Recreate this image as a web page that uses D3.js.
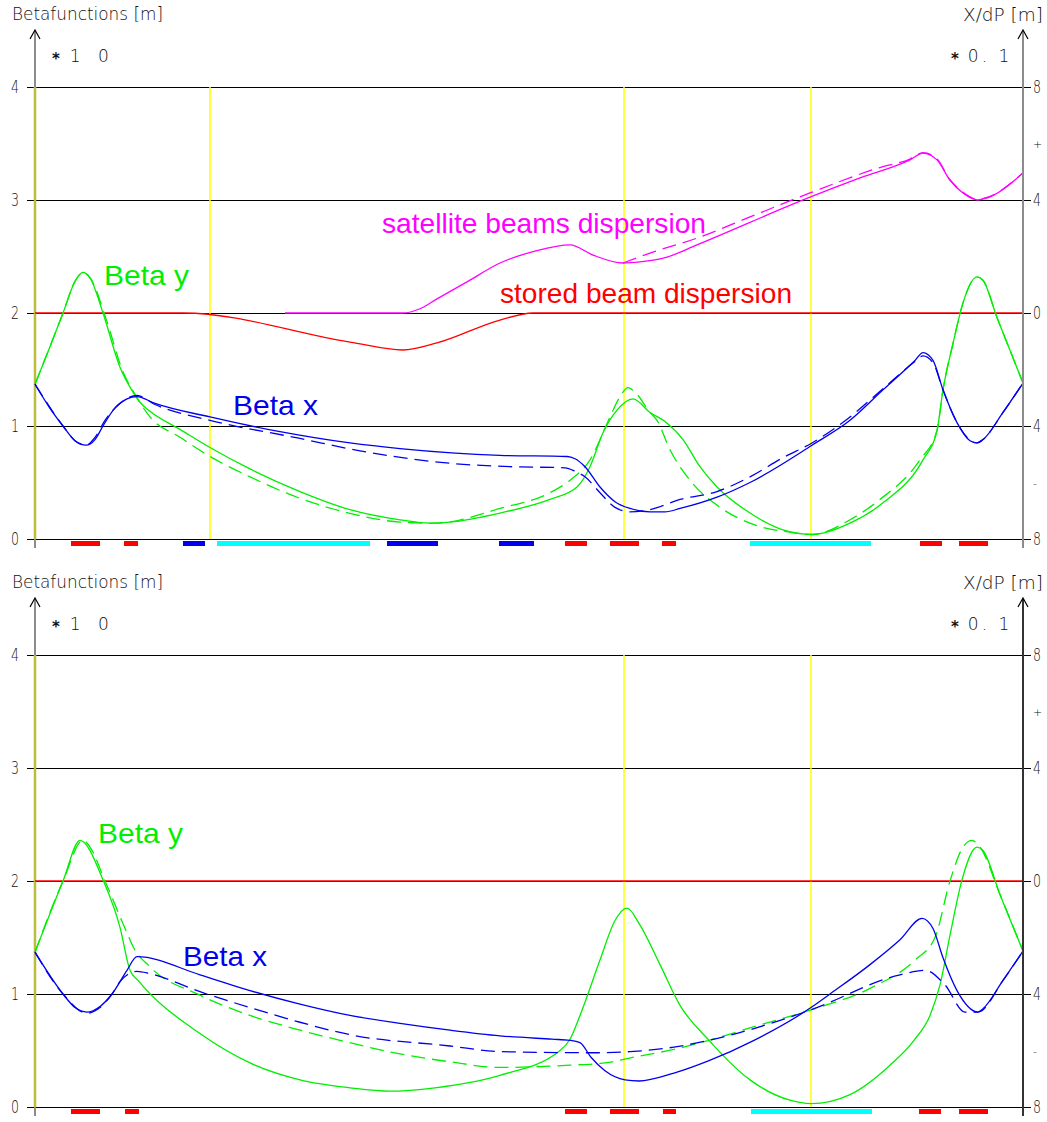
<!DOCTYPE html>
<html><head><meta charset="utf-8">
<script src="https://cdn.jsdelivr.net/npm/d3@7"></script>
<style>
body{margin:0;background:#fff}
svg{display:block}
.plot-font{font-family:"DejaVu Sans",sans-serif;font-weight:300}
.curve-label{font-family:"Liberation Sans",Arial,sans-serif}
</style>
</head><body>
<svg id="chart" width="1047" height="1122"></svg>
<script>
// Longitudinal position s [m] along the section
const sRange = [0, 19.76];

// Left axis: beta functions (x10 m); right axis: dispersion (x0.1 m)
const betaTicks = [0, 1, 2, 3, 4];
const dispTicks = [8, 6, 4, 0, -4, -6, -8];
const dispTickLabels = ["8", "+", "4", "0", "4", "-", "8"];

// Vertical markers (s)
const markersTop = [3.5, 11.78, 15.52];
const markersBottom = [11.78, 15.52];

// Lattice elements below the axis: [s start, s end, kind]
const elementsTop = [
  [0.72, 1.30, "Q"], [1.78, 2.06, "Q"], [2.96, 3.40, "B"], [3.64, 6.70, "C"],
  [7.04, 8.06, "B"], [9.28, 9.98, "B"], [10.60, 11.04, "Q"], [11.50, 12.08, "Q"],
  [12.54, 12.82, "Q"], [14.30, 16.72, "C"], [17.70, 18.14, "Q"], [18.48, 19.06, "Q"]
];
const elementsBottom = [
  [0.72, 1.30, "Q"], [1.80, 2.08, "Q"], [10.60, 11.04, "Q"], [11.50, 12.08, "Q"],
  [12.56, 12.82, "Q"], [14.32, 16.74, "C"], [17.68, 18.12, "Q"], [18.48, 19.06, "Q"]
];
const elementColors = { Q: "#ff0000", B: "#0000ee", C: "#00ffff" };

// ---- upper panel: optics with satellite beams ----
const topBetaY = [
  [0,1.37],[0.28,1.68],[0.56,2.0],[0.80,2.28],[0.96,2.36],[1.10,2.31],[1.36,2.0],[1.70,1.52],
  [1.96,1.30],[2.10,1.21],[2.30,1.13],[2.90,0.97],[3.50,0.81],[4.30,0.62],[5.30,0.42],[6.30,0.26],
  [7.30,0.17],[7.90,0.14],[8.30,0.15],[9.30,0.23],[10.30,0.35],[10.84,0.46],[11.10,0.64],[11.36,0.94],
  [11.64,1.14],[11.96,1.24],[12.30,1.12],[12.60,1.04],[12.96,0.88],[13.30,0.64],[13.64,0.46],[14.30,0.23],
  [14.96,0.08],[15.54,0.04],[16.30,0.14],[16.96,0.32],[17.76,0.70],[18.04,0.96],[18.16,1.32],[18.36,1.73],
  [18.56,2.09],[18.84,2.32],[18.96,2.29],[19.24,1.96],[19.50,1.67],[19.76,1.38]
];
const topBetaYMeas = [
  [0,1.37],[0.56,2.0],[0.80,2.28],[0.96,2.36],[1.12,2.30],[1.42,1.95],[1.76,1.48],[2.00,1.28],
  [2.30,1.08],[2.90,0.90],[3.50,0.73],[4.30,0.55],[5.30,0.36],[6.10,0.25],[7.30,0.15],[8.00,0.14],
  [9.30,0.27],[10.30,0.41],[10.70,0.52],[11.10,0.70],[11.50,1.08],[11.70,1.26],[11.86,1.34],[12.00,1.30],
  [12.30,1.12],[12.44,1.05],[12.70,0.79],[13.10,0.52],[13.70,0.28],[14.30,0.14],[15.10,0.06],[15.54,0.04],
  [16.30,0.17],[16.90,0.35],[17.70,0.70],[18.04,0.96],[18.16,1.32],[18.36,1.73],[18.56,2.09],[18.84,2.32],
  [18.96,2.29],[19.24,1.96],[19.50,1.67],[19.76,1.38]
];
const topBetaX = [
  [0,1.37],[0.28,1.17],[0.56,1.0],[0.80,0.87],[1.02,0.83],[1.20,0.88],[1.36,1.0],[1.60,1.16],
  [1.84,1.24],[2.04,1.26],[2.40,1.20],[3.50,1.08],[4.90,0.95],[6.30,0.85],[7.30,0.80],[9.30,0.74],
  [10.64,0.73],[10.80,0.71],[11.00,0.64],[11.30,0.46],[11.60,0.33],[11.90,0.27],[12.30,0.24],[12.60,0.24],
  [12.90,0.27],[13.64,0.37],[14.30,0.50],[15.54,0.83],[16.30,1.05],[16.96,1.32],[17.60,1.58],[17.76,1.65],
  [17.96,1.58],[18.16,1.32],[18.44,1.03],[18.70,0.87],[18.84,0.85],[18.96,0.88],[19.36,1.12],[19.76,1.38]
];
const topBetaXMeas = [
  [0,1.37],[0.56,1.0],[0.80,0.87],[1.02,0.83],[1.20,0.90],[1.40,1.05],[1.70,1.20],[2.04,1.27],
  [2.40,1.19],[3.50,1.05],[5.30,0.89],[6.50,0.78],[8.30,0.67],[9.50,0.64],[10.60,0.63],[10.80,0.60],
  [11.00,0.55],[11.30,0.41],[11.60,0.28],[11.90,0.24],[12.30,0.26],[12.90,0.35],[13.64,0.42],[14.30,0.55],
  [14.96,0.72],[15.54,0.85],[16.30,1.08],[16.96,1.33],[17.60,1.57],[17.76,1.62],[17.96,1.56],[18.16,1.32],
  [18.44,1.03],[18.84,0.85],[18.96,0.88],[19.36,1.12],[19.76,1.38]
];
const topDispSat = [
  [5.0,0],[7.36,0],[7.70,0.15],[8.04,0.5],[8.64,1.10],[9.30,1.77],[10.0,2.19],[10.70,2.41],
  [11.16,2.05],[11.76,1.77],[12.10,1.81],[12.64,1.98],[13.24,2.41],[15.50,4.10],[16.50,4.78],[17.50,5.42],
  [17.76,5.66],[18.04,5.42],[18.30,4.70],[18.56,4.25],[18.86,4.00],[19.04,4.07],[19.76,4.96]
];
const topDispSatMeas = [
  [11.76,1.77],[12.30,2.12],[13.24,2.65],[14.30,3.40],[15.50,4.25],[16.90,5.15],[17.50,5.45],[17.76,5.68],
  [18.04,5.45],[18.30,4.72],[18.56,4.27],[18.86,4.02],[19.04,4.09],[19.76,4.96]
];
const topDispStored = [
  [0,0],[2.96,0],[6.30,-1.03],[7.36,-1.31],[8.04,-1.06],[9.30,-0.25],[9.96,0],[19.76,0]
];

// ---- lower panel: optics without satellite beams ----
const botBetaY = [
  [0,1.37],[0.56,2.0],[0.90,2.36],[1.36,2.01],[1.70,1.59],[1.90,1.21],[2.06,1.12],[3.30,0.65],
  [4.30,0.39],[5.30,0.24],[6.30,0.17],[7.10,0.14],[8.00,0.17],[9.30,0.28],[10.50,0.50],[10.70,0.60],
  [10.90,0.81],[11.30,1.30],[11.60,1.65],[11.84,1.76],[12.10,1.61],[12.50,1.26],[12.90,0.90],[13.48,0.59],
  [14.30,0.24],[15.10,0.06],[15.52,0.03],[16.30,0.11],[17.10,0.37],[17.58,0.59],[17.90,0.81],[18.10,1.08],
  [18.30,1.52],[18.54,2.01],[18.84,2.30],[18.96,2.27],[19.30,1.88],[19.76,1.38]
];
const botBetaYMeas = [
  [0,1.37],[0.56,2.0],[0.96,2.36],[1.10,2.30],[1.40,2.00],[1.84,1.54],[1.96,1.42],[2.30,1.24],
  [3.30,0.99],[4.30,0.81],[5.30,0.68],[6.10,0.59],[7.30,0.47],[8.30,0.40],[9.30,0.35],[10.70,0.37],
  [11.40,0.39],[12.08,0.45],[12.78,0.51],[13.48,0.59],[14.30,0.70],[15.52,0.86],[16.70,1.05],[17.60,1.30],
  [18.00,1.50],[18.30,2.00],[18.56,2.30],[18.74,2.36],[18.90,2.30],[19.30,1.88],[19.76,1.38]
];
const botBetaX = [
  [0,1.37],[0.56,1.0],[0.80,0.88],[1.04,0.84],[1.30,0.89],[1.54,1.0],[1.84,1.21],[2.04,1.33],
  [3.30,1.17],[4.30,1.03],[5.30,0.91],[6.30,0.81],[7.30,0.74],[8.30,0.68],[9.30,0.63],[10.34,0.60],
  [10.70,0.59],[10.90,0.57],[11.12,0.44],[11.40,0.32],[11.80,0.24],[12.08,0.23],[12.78,0.30],[13.48,0.41],
  [14.38,0.59],[15.52,0.88],[15.90,1.0],[16.70,1.26],[17.30,1.48],[17.74,1.67],[17.96,1.58],[18.16,1.32],
  [18.44,1.03],[18.86,0.84],[18.96,0.87],[19.36,1.12],[19.76,1.38]
];
const botBetaXMeas = [
  [0,1.37],[0.56,1.0],[1.04,0.83],[1.30,0.88],[1.54,1.0],[1.70,1.11],[2.04,1.20],[2.30,1.18],
  [3.30,1.02],[4.30,0.88],[5.30,0.75],[6.30,0.64],[8.30,0.54],[9.30,0.49],[11.30,0.48],[11.90,0.49],
  [12.78,0.53],[13.48,0.59],[15.52,0.86],[17.30,1.17],[17.80,1.21],[18.20,1.08],[18.60,0.84],[18.86,0.84],
  [19.36,1.12],[19.76,1.38]
];
const botDispStored = [[0,0],[19.76,0]];

const GREEN = "#00ee00", BLUE = "#0000ee", MAGENTA = "#ff00ff", RED = "#ff0000";

const svg = d3.select("#chart");
const x = d3.scaleLinear().domain(sRange).range([35, 1023]);

function drawPanel(top, cfg) {
  const g = svg.append("g").attr("transform", `translate(0,${top})`);
  const yB = d3.scaleLinear().domain([0, 4]).range([539, 87]);
  const yD = d3.scaleLinear().domain([-8, 8]).range([539, 87]);

  // horizontal grid with left labels
  const left = g.append("g").attr("class", "plot-font")
    .attr("transform", "translate(27,0)")
    .call(d3.axisLeft(yB).tickValues(betaTicks).tickFormat(d3.format("d"))
      .tickSize(-1004).tickPadding(8));
  left.select(".domain").remove();
  left.selectAll(".tick line").attr("stroke", "#000").attr("stroke-width", 1.2);
  left.selectAll(".tick text").attr("font-size", 17).attr("fill", "#111")
    .attr("textLength", 8).attr("lengthAdjust", "spacingAndGlyphs");

  const right = g.append("g").attr("class", "plot-font")
    .attr("transform", "translate(1023,0)")
    .call(d3.axisRight(yD).tickValues(dispTicks)
      .tickFormat((d, i) => dispTickLabels[i]).tickSize(0).tickPadding(10));
  right.select(".domain").remove();
  right.selectAll(".tick text").attr("font-size", 17).attr("fill", "#111")
    .each(function(d, i) {
      const t = dispTickLabels[i];
      if (t === "+" || t === "-") d3.select(this).attr("font-size", 11);
      else d3.select(this).attr("textLength", 8).attr("lengthAdjust", "spacingAndGlyphs");
    });

  // vertical marker lines
  g.append("line").attr("x1", x(0)).attr("x2", x(0)).attr("y1", yB(4)).attr("y2", yB(0))
    .attr("stroke", "#bdbd3c").attr("stroke-width", 2.5);
  g.selectAll(".marker").data(cfg.markers).join("line")
    .attr("x1", d => x(d)).attr("x2", d => x(d))
    .attr("y1", yB(4)).attr("y2", yB(0))
    .attr("stroke", "#ffff00").attr("stroke-width", 1.5);

  const lineB = d3.line().x(d => x(d[0])).y(d => yB(d[1])).curve(d3.curveMonotoneX);
  const lineD = d3.line().x(d => x(d[0])).y(d => yD(d[1])).curve(d3.curveMonotoneX);

  cfg.series.forEach(s => {
    g.append("path").datum(s.data)
      .attr("d", s.axis === "D" ? lineD : lineB)
      .attr("fill", "none").attr("stroke", s.color).attr("stroke-width", 1.3)
      .attr("stroke-dasharray", s.dashed ? "14,7" : null);
  });

  // axis lines with open arrow heads
  [[x(0), cfg.leftAxisColor], [x(sRange[1]), cfg.rightAxisColor]].forEach(([ax, col]) => {
    g.append("line").attr("x1", ax).attr("x2", ax).attr("y1", 31).attr("y2", yB(4))
      .attr("stroke", col).attr("stroke-width", 2);
    g.append("line").attr("x1", ax).attr("x2", ax).attr("y1", yB(0)).attr("y2", 548)
      .attr("stroke", col).attr("stroke-width", 2);
    g.append("path").attr("d", `M${ax - 5},${39}L${ax},${30}L${ax + 5},${39}`)
      .attr("fill", "none").attr("stroke", "#000").attr("stroke-width", 1.2);
  });
  g.append("line").attr("x1", x(sRange[1])).attr("x2", x(sRange[1]))
    .attr("y1", yB(4)).attr("y2", yB(0)).attr("stroke", cfg.rightAxisColor).attr("stroke-width", 2);

  // lattice elements
  g.selectAll(".elem").data(cfg.elements).join("rect")
    .attr("x", d => x(d[0])).attr("width", d => x(d[1]) - x(d[0]))
    .attr("y", yB(0) + 2).attr("height", 5)
    .attr("fill", d => elementColors[d[2]]);

  // axis titles and scale factors
  const tf = g.append("g").attr("class", "plot-font").attr("fill", "#111");
  tf.append("text").attr("x", 12).attr("y", 20).attr("font-size", 17)
    .attr("textLength", 151).attr("lengthAdjust", "spacingAndGlyphs").text("Betafunctions [m]");
  tf.append("text").attr("x", 963).attr("y", 21).attr("font-size", 17)
    .attr("textLength", 80).attr("lengthAdjust", "spacingAndGlyphs").text("X/dP [m]");
  const f1 = tf.append("text").attr("x", 52).attr("y", 62).attr("font-size", 17);
  f1.append("tspan").attr("dy", 2).attr("font-size", 15).attr("font-weight", "bold").text("*");
  f1.append("tspan").attr("dy", -2).attr("dx", 10).attr("letter-spacing", 6).text("1 0");
  const f2 = tf.append("text").attr("x", 951).attr("y", 62).attr("font-size", 17);
  f2.append("tspan").attr("dy", 2).attr("font-size", 15).attr("font-weight", "bold").text("*");
  f2.append("tspan").attr("dy", -2).attr("dx", 9).attr("letter-spacing", 3).text("0. 1");

  // curve labels
  cfg.labels.forEach(l => {
    g.append("text").attr("class", "curve-label")
      .attr("x", x(l.s)).attr("y", l.axis === "D" ? yD(l.v) : yB(l.v))
      .attr("font-size", 28).attr("fill", l.color)
      .attr("textLength", l.w).attr("lengthAdjust", "spacingAndGlyphs")
      .text(l.text);
  });
}

drawPanel(0, {
  markers: markersTop,
  elements: elementsTop,
  leftAxisColor: "#8c8c8c",
  rightAxisColor: "#8c8c8c",
  series: [
    { data: topDispStored, axis: "D", color: RED },
    { data: topDispSatMeas, axis: "D", color: MAGENTA, dashed: true },
    { data: topDispSat, axis: "D", color: MAGENTA },
    { data: topBetaYMeas, axis: "B", color: GREEN, dashed: true },
    { data: topBetaY, axis: "B", color: GREEN },
    { data: topBetaXMeas, axis: "B", color: BLUE, dashed: true },
    { data: topBetaX, axis: "B", color: BLUE }
  ],
  labels: [
    { text: "Beta y", s: 1.38, v: 2.25, axis: "B", color: GREEN, w: 85 },
    { text: "Beta x", s: 3.96, v: 1.10, axis: "B", color: BLUE, w: 85 },
    { text: "satellite beams dispersion", s: 6.94, v: 2.83, axis: "D", color: MAGENTA, w: 324 },
    { text: "stored beam dispersion", s: 9.30, v: 0.35, axis: "D", color: RED, w: 292 }
  ]
});

drawPanel(568, {
  markers: markersBottom,
  elements: elementsBottom,
  leftAxisColor: "#8c8c8c",
  rightAxisColor: "#333",
  series: [
    { data: botDispStored, axis: "D", color: RED },
    { data: botBetaYMeas, axis: "B", color: GREEN, dashed: true },
    { data: botBetaY, axis: "B", color: GREEN },
    { data: botBetaXMeas, axis: "B", color: BLUE, dashed: true },
    { data: botBetaX, axis: "B", color: BLUE }
  ],
  labels: [
    { text: "Beta y", s: 1.26, v: 2.34, axis: "B", color: GREEN, w: 85 },
    { text: "Beta x", s: 2.96, v: 1.25, axis: "B", color: BLUE, w: 84 }
  ]
});
</script>
</body></html>
